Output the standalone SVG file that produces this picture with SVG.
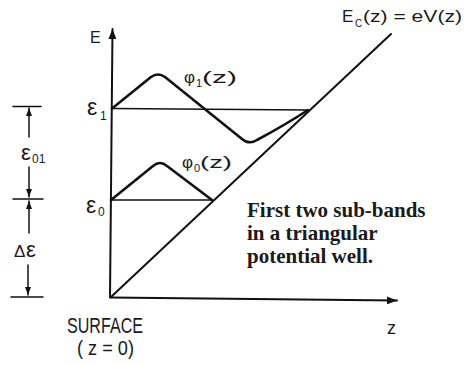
<svg xmlns="http://www.w3.org/2000/svg" width="469" height="365" viewBox="0 0 469 365">
<defs>
<style>
.ln{fill:none;stroke:#111;stroke-linecap:round;stroke-linejoin:round}
.ax{stroke-width:2}
.lv{stroke-width:1.6}
.cv{stroke-width:2.6}
.dm{stroke-width:1.5}
.lb{font-family:"Liberation Sans","DejaVu Sans",sans-serif;fill:#1a1a1a}
.cap{font-family:"Liberation Serif","Times New Roman",serif;font-weight:bold;font-size:21px;fill:#1a1a1a}
</style>
<marker id="ah" viewBox="0 0 10 8" refX="10" refY="4" markerWidth="10" markerHeight="8" markerUnits="userSpaceOnUse" orient="auto">
<path d="M0,0 L10,4 L0,8 Z" fill="#111"/>
</marker>
<marker id="ahs" viewBox="0 0 8 6" refX="8" refY="3" markerWidth="8" markerHeight="6" markerUnits="userSpaceOnUse" orient="auto">
<path d="M0,0 L8,3 L0,6 Z" fill="#111"/>
</marker>
</defs>
<rect width="469" height="365" fill="#fff"/>

<g id="axes">
<path class="ln ax" d="M110,297 L112.5,29" marker-end="url(#ah)"/>
<path class="ln ax" d="M110,297.5 L397,300.5" marker-end="url(#ah)"/>
<text class="lb" x="90" y="43" font-size="16">E</text>
<text class="lb" x="387" y="334" font-size="18">z</text>
<text class="lb" x="67" y="333" font-size="22" textLength="76" lengthAdjust="spacingAndGlyphs">SURFACE</text>
<text class="lb" x="77" y="355" font-size="21" textLength="57" lengthAdjust="spacingAndGlyphs">( z = 0)</text>
</g>

<g id="potential">
<path class="ln ax" d="M111,297 L391,34"/>
<text class="lb" font-size="17"><tspan x="342" y="22">E</tspan><tspan x="355" y="27" font-size="10">C</tspan><tspan x="363" y="22" textLength="99" lengthAdjust="spacingAndGlyphs">(z) = eV(z)</tspan></text>
</g>

<g id="level1">
<path class="ln lv" d="M112,108.5 L308,110"/>
<text class="lb"><tspan x="87" y="115" font-size="23">ε</tspan><tspan x="100" y="120" font-size="12">1</tspan></text>
</g>

<g id="level0">
<path class="ln lv" d="M111,200 L212,200"/>
<text class="lb"><tspan x="86" y="213" font-size="23">ε</tspan><tspan x="98" y="216" font-size="12">0</tspan></text>
</g>

<g id="phi1">
<path class="ln cv" d="M112,108.5 L151,77 Q158,72 165,77 L242,139 Q249,145 257,140 Q285,125 308,110"/>
<text class="lb" font-size="17"><tspan x="184" y="83">φ</tspan><tspan x="196" y="87" font-size="11">1</tspan><tspan x="202" y="83" textLength="35" lengthAdjust="spacingAndGlyphs">(z)</tspan></text>
</g>

<g id="phi0">
<path class="ln cv" d="M111,200 L153,166 Q160,160 167,166 L212,200"/>
<text class="lb" font-size="17"><tspan x="182" y="168">φ</tspan><tspan x="194" y="172" font-size="11">0</tspan><tspan x="200" y="168" textLength="32" lengthAdjust="spacingAndGlyphs">(z)</tspan></text>
</g>

<g id="dimensions">
<path class="ln dm" d="M13,106.5 L41,106.5"/>
<path class="ln dm" d="M13,199 L43,199"/>
<path class="ln dm" d="M11,297 L43,297"/>
<path class="ln dm" d="M29,137 L29,108" marker-end="url(#ahs)"/>
<path class="ln dm" d="M29,167 L29,197" marker-end="url(#ahs)"/>
<path class="ln dm" d="M29,233 L29,201" marker-end="url(#ahs)"/>
<path class="ln dm" d="M28,265 L28,295" marker-end="url(#ahs)"/>
<text class="lb"><tspan x="21" y="160" font-size="22">ε</tspan><tspan x="32" y="163" font-size="12">01</tspan></text>
<text class="lb"><tspan x="14" y="257" font-size="17">Δ</tspan><tspan x="26" y="257" font-size="22">ε</tspan></text>
</g>

<g id="caption">
<text class="cap"><tspan x="247" y="217">First two sub-bands</tspan><tspan x="247" y="240">in a triangular</tspan><tspan x="247" y="263">potential well.</tspan></text>
</g>
</svg>
